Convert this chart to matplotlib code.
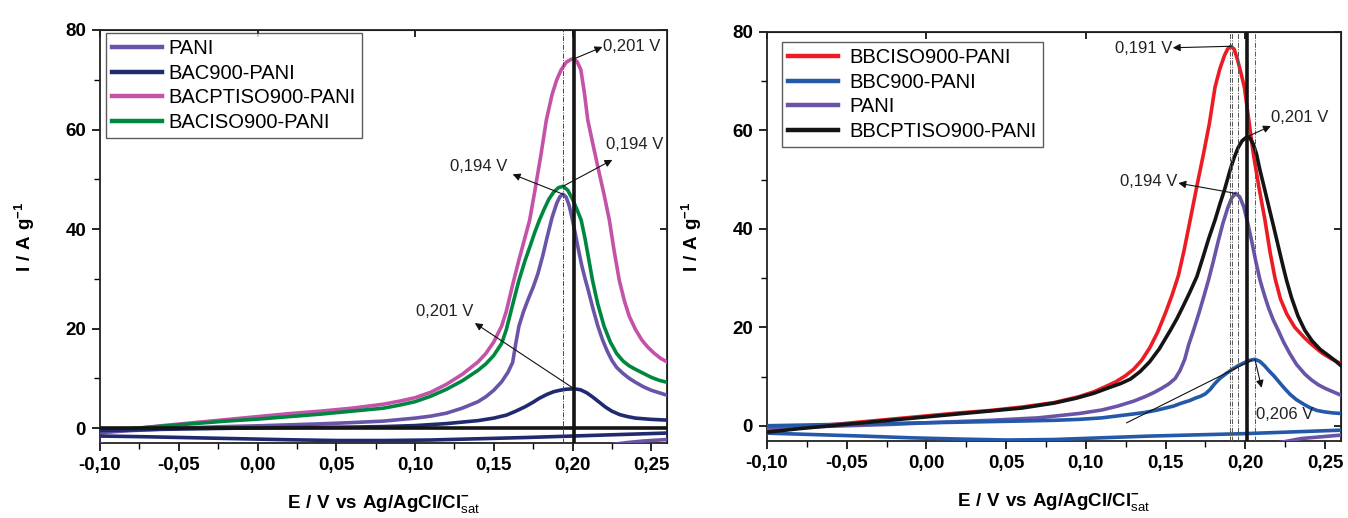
import matplotlib
matplotlib.use("Agg")
import matplotlib.pyplot as plt
from matplotlib.ticker import MultipleLocator, FuncFormatter

plt.rcParams["font.family"] = ["Liberation Sans", "DejaVu Sans"]
plt.rcParams["mathtext.fontset"] = "custom"
plt.rcParams["mathtext.rm"] = "Liberation Sans"
plt.rcParams["mathtext.bf"] = "Liberation Sans:bold"

# ---------------- left panel: BAC series ----------------
pani_a_x = [-0.10, -0.08, -0.06, -0.04, -0.02, 0.00, 0.02, 0.04, 0.06, 0.08, 0.10, 0.11, 0.12,
            0.13, 0.14, 0.145, 0.15, 0.155, 0.159, 0.162, 0.164, 0.166, 0.169, 0.172, 0.175,
            0.178, 0.181, 0.184, 0.187, 0.190, 0.192, 0.194, 0.196, 0.198, 0.200, 0.202, 0.204,
            0.206, 0.208, 0.210, 0.213, 0.216, 0.219, 0.222, 0.225, 0.228, 0.232, 0.236, 0.240,
            0.245, 0.250, 0.255, 0.26]
pani_a_y = [-0.9, -0.5, -0.2, 0.1, 0.3, 0.45, 0.65, 0.85, 1.1, 1.4, 2.0, 2.4, 3.0,
            4.0, 5.3, 6.3, 7.6, 9.3, 11.2, 13.2, 17.0, 20.5, 23.5, 26.0, 28.3,
            31.0, 34.5, 38.5, 42.3, 45.2, 46.5, 47.0, 46.4, 44.6, 41.8, 38.7, 35.5,
            32.5, 30.0, 27.7, 24.0, 20.6, 17.8, 15.5, 13.6, 12.2, 11.0, 10.0, 9.2,
            8.3, 7.6, 7.1, 6.6]
pani_a_rev_x = [-0.10, -0.09, 0.215, 0.225, 0.235, 0.245, 0.26]
pani_a_rev_y = [-3.2, -3.6, -3.8, -3.3, -2.9, -2.6, -2.3]

bac900_x = [-0.10, -0.06, -0.02, 0.02, 0.06, 0.08, 0.10, 0.12, 0.13, 0.14, 0.15, 0.158, 0.164,
            0.17, 0.175, 0.179, 0.184, 0.188, 0.192, 0.196, 0.201, 0.205, 0.209, 0.213, 0.217,
            0.221, 0.225, 0.23, 0.235, 0.24, 0.25, 0.26]
bac900_y = [-0.5, -0.25, -0.05, 0.1, 0.2, 0.3, 0.5, 0.9, 1.2, 1.5, 2.0, 2.6, 3.4,
            4.3, 5.2, 6.0, 6.8, 7.3, 7.6, 7.8, 7.9, 7.7, 7.1, 6.2, 5.2,
            4.2, 3.4, 2.7, 2.3, 2.0, 1.75, 1.6]
bac900_rev_x = [-0.10, -0.07, -0.04, -0.01, 0.02, 0.05, 0.08, 0.11, 0.14, 0.17, 0.20, 0.23, 0.26]
bac900_rev_y = [-1.6, -1.75, -1.95, -2.15, -2.35, -2.5, -2.5, -2.4, -2.15, -1.9, -1.6, -1.3, -1.0]

bacptiso_x = [-0.10, -0.08, -0.06, -0.04, -0.02, 0.00, 0.02, 0.04, 0.06, 0.08, 0.09, 0.10, 0.11,
              0.12, 0.13, 0.14, 0.145, 0.15, 0.155, 0.158, 0.162, 0.166, 0.170, 0.1728, 0.176,
              0.180, 0.1834, 0.187, 0.190, 0.1928, 0.196, 0.199, 0.201, 0.203, 0.2053, 0.2075,
              0.2097, 0.213, 0.2165, 0.220, 0.2234, 0.2265, 0.2297, 0.233, 0.236, 0.240, 0.244,
              0.248, 0.252, 0.256, 0.26]
bacptiso_y = [-1.0, -0.2, 0.5, 1.1, 1.7, 2.3, 2.9, 3.4, 4.0, 4.8, 5.4, 6.1, 7.2,
              8.8, 10.8, 13.3, 15.0, 17.3, 20.5, 23.5, 28.8, 33.8, 38.5, 41.8, 47.5,
              55.0, 61.9, 67.0, 70.0, 72.0, 73.5, 74.1, 74.2, 73.6, 72.0, 67.5,
              61.9, 57.0, 51.9, 47.0, 41.8, 35.5, 29.7, 25.5, 22.5, 19.8, 17.7,
              16.2, 15.0, 14.0, 13.3]

baciso_x = [-0.10, -0.08, -0.06, -0.04, -0.02, 0.00, 0.02, 0.04, 0.06, 0.08, 0.09, 0.10, 0.11,
            0.12, 0.13, 0.14, 0.145, 0.15, 0.155, 0.158, 0.162, 0.166, 0.170, 0.173, 0.176,
            0.179, 0.182, 0.185, 0.188, 0.191, 0.194, 0.197, 0.200, 0.203, 0.2055, 0.208, 0.210,
            0.2127, 0.216, 0.220, 0.224, 0.228, 0.232, 0.236, 0.240, 0.245, 0.250, 0.255, 0.26]
baciso_y = [-0.7, -0.1, 0.4, 0.9, 1.4, 1.8, 2.3, 2.8, 3.4, 4.0, 4.6, 5.3, 6.4,
            7.8, 9.5, 11.6, 12.9, 14.6, 17.0, 19.8, 24.8, 29.7, 33.8, 36.5, 39.3,
            41.8, 44.0, 46.0, 47.4, 48.3, 48.6, 47.8, 46.0, 43.8, 41.8, 38.0, 34.5,
            29.7, 25.0, 20.5, 17.3, 15.0, 13.5, 12.5, 11.8, 11.0, 10.2, 9.6, 9.2]

# ---------------- right panel: BBC series ----------------
bbciso_x = [-0.10, -0.08, -0.06, -0.04, -0.02, 0.00, 0.02, 0.04, 0.06, 0.08, 0.0956, 0.105, 0.112,
            0.1186, 0.125, 0.13, 0.135, 0.14, 0.145, 0.15, 0.154, 0.158, 0.1615, 0.1654, 0.1695,
            0.1738, 0.1775, 0.181, 0.184, 0.187, 0.189, 0.191, 0.193, 0.195, 0.197, 0.1994,
            0.202, 0.205, 0.2085, 0.2123, 0.2155, 0.2186, 0.222, 0.226, 0.231, 0.2373, 0.242,
            0.248, 0.254, 0.26]
bbciso_y = [-0.9, -0.3, 0.2, 0.8, 1.4, 2.0, 2.6, 3.1, 3.8, 4.7, 5.9, 6.9, 7.9,
            8.9, 10.2, 11.5, 13.3, 15.8, 19.0, 23.0, 26.5, 30.5, 35.5, 41.8, 48.5,
            55.3, 61.5, 68.8, 72.5, 75.3, 76.6, 77.1, 76.5, 74.5, 72.0, 68.8,
            62.5, 55.3, 48.5, 41.8, 35.3, 30.0, 25.8, 22.7, 20.0, 17.8, 16.4,
            14.8, 13.6, 12.6]

bbc900_x = [-0.10, -0.05, 0.00, 0.05, 0.08, 0.096, 0.11, 0.12, 0.13, 0.137, 0.145, 0.15, 0.155,
            0.16, 0.165, 0.1686, 0.172, 0.175, 0.178, 0.181, 0.184, 0.188, 0.192, 0.196, 0.200,
            0.203, 0.206, 0.209, 0.212, 0.215, 0.218, 0.2206, 0.224, 0.228, 0.232, 0.237,
            0.241, 0.245, 0.25, 0.255, 0.26]
bbc900_y = [0.0, 0.3, 0.6, 0.9, 1.1, 1.3, 1.6, 2.0, 2.4, 2.7, 3.2, 3.6, 4.0,
            4.6, 5.1, 5.6, 6.0, 6.5, 7.4, 8.6, 9.6, 10.6, 11.5, 12.3, 12.9,
            13.3, 13.5, 13.1, 12.2, 11.1, 10.1, 9.1, 7.8, 6.4, 5.3, 4.3,
            3.6, 3.1, 2.8, 2.6, 2.5]
bbc900_rev_x = [-0.10, -0.07, -0.04, -0.01, 0.02, 0.05, 0.08, 0.11, 0.14, 0.17, 0.20, 0.23, 0.26]
bbc900_rev_y = [-1.5, -1.8, -2.1, -2.45, -2.7, -2.9, -2.8, -2.45, -2.1, -1.85, -1.6, -1.25, -0.9]

pani_b_x = [-0.10, -0.06, -0.02, 0.00, 0.04, 0.07, 0.096, 0.11, 0.12, 0.13, 0.137, 0.143, 0.148,
            0.152, 0.156, 0.159, 0.162, 0.1645, 0.1675, 0.171, 0.174, 0.1769, 0.180, 0.183,
            0.186, 0.189, 0.1915, 0.194, 0.1965, 0.199, 0.2015, 0.204, 0.2065, 0.2092, 0.212,
            0.2145, 0.2175, 0.2206, 0.224, 0.228, 0.232, 0.2373, 0.2415, 0.2459, 0.250, 0.255,
            0.26]
pani_b_y = [-0.5, -0.1, 0.3, 0.6, 1.1, 1.6, 2.5, 3.2, 4.0, 5.0, 5.9, 6.8, 7.7,
            8.5, 9.6, 11.2, 13.5, 16.5, 19.4, 23.0, 26.3, 29.6, 33.5, 37.5,
            41.2, 44.3, 46.3, 47.2, 46.5, 44.5, 41.2, 37.5, 33.5, 29.6, 26.5,
            24.0, 21.5, 19.4, 17.0, 14.6, 12.5, 10.5, 9.3, 8.3, 7.6, 6.9,
            6.2]
pani_b_rev_x = [0.205, 0.222, 0.235, 0.26]
pani_b_rev_y = [-3.9, -3.4, -2.6, -1.9]

bbcptiso_x = [-0.10, -0.08, -0.06, -0.04, -0.02, 0.00, 0.02, 0.04, 0.06, 0.08, 0.094, 0.105,
              0.115, 0.122, 0.128, 0.134, 0.14, 0.146, 0.153, 0.157, 0.161, 0.165, 0.1696, 0.1735,
              0.177, 0.181, 0.184, 0.187, 0.1904, 0.193, 0.1955, 0.198, 0.201, 0.203, 0.205,
              0.207, 0.2092, 0.212, 0.2145, 0.2175, 0.221, 0.2235, 0.2258, 0.229, 0.233, 0.2373,
              0.242, 0.247, 0.252, 0.256, 0.26]
bbcptiso_y = [-1.3, -0.6, 0.0, 0.6, 1.2, 1.8, 2.4, 3.0, 3.6, 4.6, 5.6, 6.6,
              7.8, 8.6, 9.5, 11.0, 13.0, 15.6, 19.4, 21.7, 24.3, 27.0, 30.3, 34.3,
              38.0, 41.8, 45.0, 48.0, 51.9, 54.5, 56.5, 57.9, 58.7, 58.4, 57.2,
              55.2, 51.9, 48.2, 44.8, 40.8, 36.0, 32.6, 29.6, 26.0, 22.3, 19.4,
              17.2, 15.5, 14.3, 13.3, 12.2]

# peak labels: (peak x, peak y, arrow tip x, arrow tip y, text x, text y, ha)
left_peaks = [
    (0.201, 74.2, 0.219, 76.6, 0.2195, 76.6, "left"),
    (0.194, 48.6, 0.2253, 53.9, 0.2212, 57.0, "left"),
    (0.194, 47.0, 0.162, 51.0, 0.1585, 52.6, "right"),
    (0.201, 7.9, 0.138, 21.1, 0.1370, 23.4, "right"),
]
right_peaks = [
    (0.191, 77.1, 0.1545, 76.8, 0.1540, 76.6, "right"),
    (0.201, 58.7, 0.216, 60.9, 0.2163, 62.7, "left"),
    (0.194, 47.2, 0.158, 49.3, 0.1572, 49.7, "right"),
    (0.206, 13.5, 0.2102, 7.7, 0.2068, 2.2, "left"),
]

PURPLE = "#6954a8"
NAVY = "#1f2a6f"
PINK = "#c452a8"
GREEN = "#00873f"
RED = "#ec1c24"
BLUE = "#2359a8"
BLACK = "#141414"

LW = 2.6
XLABEL = r"$\mathbf{E\ /\ V\ vs\ Ag/AgCl/Cl}^{\mathbf{-}}_{\mathrm{sat}}$"
YLABEL = r"$\mathbf{I\ /\ A\ g}^{\mathbf{-1}}$"


def comma_fmt(v, pos):
    v = round(v, 4)
    if abs(v) < 1e-9:
        v = 0.0
    return f"{v:.2f}".replace(".", ",")


def style_axes(ax, ylim):
    ax.set_xlim(-0.10, 0.26)
    ax.set_ylim(*ylim)
    ax.xaxis.set_major_locator(MultipleLocator(0.05))
    ax.xaxis.set_minor_locator(MultipleLocator(0.025))
    ax.yaxis.set_major_locator(MultipleLocator(20))
    ax.yaxis.set_minor_locator(MultipleLocator(10))
    ax.xaxis.set_major_formatter(FuncFormatter(comma_fmt))
    ax.tick_params(which="major", direction="out", length=6, width=1.2,
                   labelsize=13.5, pad=4)
    ax.tick_params(which="minor", direction="out", length=4, width=1.0)
    for lab in ax.get_xticklabels() + ax.get_yticklabels():
        lab.set_fontweight("bold")
    for s in ax.spines.values():
        s.set_linewidth(1.3)
        s.set_color("#222222")
    top = ax.secondary_xaxis("top")
    top.xaxis.set_major_locator(MultipleLocator(0.10))
    top.tick_params(direction="in", length=5, width=1.2, labeltop=False)
    right = ax.secondary_yaxis("right")
    right.yaxis.set_major_locator(MultipleLocator(40))
    right.tick_params(direction="in", length=5, width=1.2, labelright=False)
    ax.set_xlabel(XLABEL, fontsize=13.5, labelpad=14)
    ax.set_ylabel(YLABEL, fontsize=13.5, labelpad=20)


def label_peaks(ax, peaks):
    for px, py, tx, ty, lx, ly, ha in peaks:
        ax.annotate("", xy=(tx, ty), xytext=(px, py),
                    arrowprops=dict(arrowstyle="-|>", color="#111111", lw=0.8,
                                    mutation_scale=11, shrinkA=0, shrinkB=0),
                    zorder=6)
        ax.text(lx, ly, f"{px:.3f} V".replace(".", ","), ha=ha, va="center",
                fontsize=12, color="#222222", zorder=6)


fig = plt.figure(figsize=(13.48, 5.18), dpi=100)
ax1 = fig.add_axes([100 / 1348, 1 - 443 / 518, 567 / 1348, 413 / 518])
ax2 = fig.add_axes([767 / 1348, 1 - 441 / 518, 574 / 1348, 409 / 518])

# left panel
ax1.plot(bacptiso_x, bacptiso_y, color=PINK, lw=LW, label="BACPTISO900-PANI", zorder=3)
ax1.plot(baciso_x, baciso_y, color=GREEN, lw=LW, label="BACISO900-PANI", zorder=3)
ax1.plot(pani_a_x, pani_a_y, color=PURPLE, lw=LW, label="PANI", zorder=3)
ax1.plot(pani_a_rev_x, pani_a_rev_y, color=PURPLE, lw=LW, zorder=3)
ax1.plot(bac900_x, bac900_y, color=NAVY, lw=LW, label="BAC900-PANI", zorder=3)
ax1.plot(bac900_rev_x, bac900_rev_y, color=NAVY, lw=LW, zorder=3)
ax1.axhline(0, color=BLACK, lw=2.6, zorder=4)
ax1.axvline(0.194, color="#444444", lw=0.7, ls=(0, (5, 1.5, 1, 1.5)), zorder=4)
ax1.axvline(0.201, color=BLACK, lw=2.6, zorder=4)
label_peaks(ax1, left_peaks)
style_axes(ax1, (-3.0, 80))
h, l = ax1.get_legend_handles_labels()
order = ["PANI", "BAC900-PANI", "BACPTISO900-PANI", "BACISO900-PANI"]
hh = [h[l.index(o)] for o in order]
leg1 = ax1.legend(hh, order, loc="upper left", bbox_to_anchor=(0.0106, 0.993),
                  borderaxespad=0, fontsize=14.5, frameon=True, fancybox=False,
                  edgecolor="#333333", handlelength=2.5, handletextpad=0.3,
                  labelspacing=0.28, borderpad=0.3)
leg1.get_frame().set_linewidth(1.0)
for ln in leg1.get_lines():
    ln.set_linewidth(3.2)

# right panel
ax2.plot(bbciso_x, bbciso_y, color=RED, lw=LW, label="BBCISO900-PANI", zorder=3)
ax2.plot(pani_b_x, pani_b_y, color=PURPLE, lw=LW, label="PANI", zorder=3)
ax2.plot(pani_b_rev_x, pani_b_rev_y, color=PURPLE, lw=LW, zorder=3)
ax2.plot(bbc900_x, bbc900_y, color=BLUE, lw=LW, label="BBC900-PANI", zorder=3)
ax2.plot(bbc900_rev_x, bbc900_rev_y, color=BLUE, lw=LW, zorder=3)
ax2.plot(bbcptiso_x, bbcptiso_y, color=BLACK, lw=LW, label="BBCPTISO900-PANI", zorder=3)
for vx in [0.1905, 0.1915, 0.1955, 0.206]:
    ax2.axvline(vx, color="#555555", lw=0.7, ls=(0, (5, 1.5, 1, 1.5)), zorder=4)
ax2.axvline(0.201, color=BLACK, lw=2.6, zorder=4)
ax2.plot([0.1256, 0.204], [0.6, 13.3], color="#111111", lw=0.8, zorder=6)
label_peaks(ax2, right_peaks)
style_axes(ax2, (-3.1, 80))
h, l = ax2.get_legend_handles_labels()
order = ["BBCISO900-PANI", "BBC900-PANI", "PANI", "BBCPTISO900-PANI"]
hh = [h[l.index(o)] for o in order]
leg2 = ax2.legend(hh, order, loc="upper left", bbox_to_anchor=(0.026, 0.9756),
                  borderaxespad=0, fontsize=14.5, frameon=True, fancybox=False,
                  edgecolor="#333333", handlelength=2.5, handletextpad=0.55,
                  labelspacing=0.28, borderpad=0.3)
leg2.get_frame().set_linewidth(1.0)
for ln in leg2.get_lines():
    ln.set_linewidth(3.2)

fig.savefig("out.png", dpi=100)
